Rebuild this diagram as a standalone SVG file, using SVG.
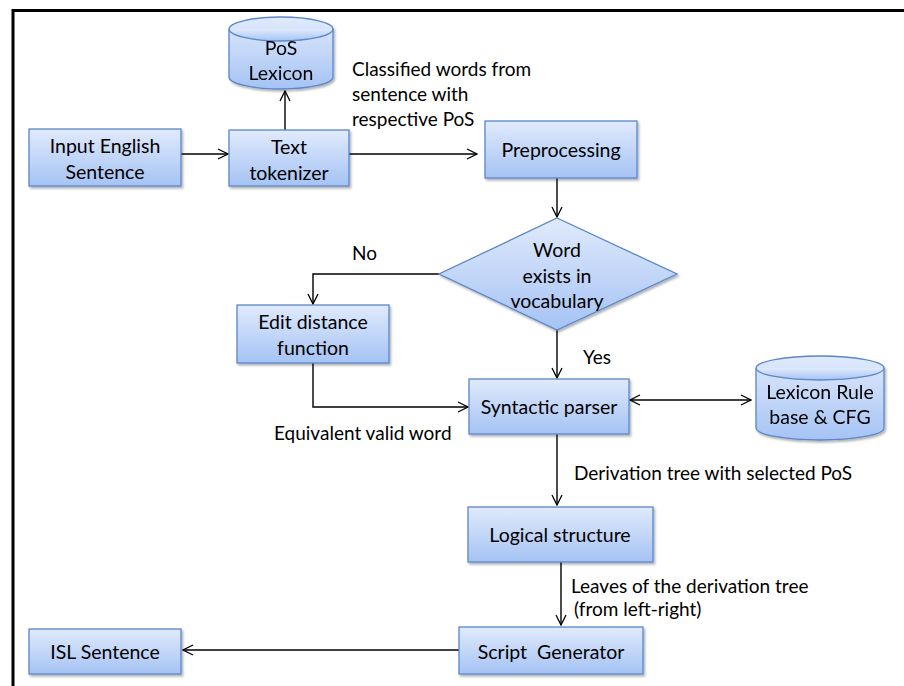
<svg xmlns="http://www.w3.org/2000/svg" width="904" height="686" viewBox="0 0 904 686">
<defs>
<linearGradient id="g" x1="0" y1="0" x2="0" y2="1">
<stop offset="0" stop-color="#e0eafc"/>
<stop offset="1" stop-color="#a5c3f4"/>
</linearGradient>
<filter id="sh" x="-10%" y="-10%" width="130%" height="140%">
<feDropShadow dx="1.5" dy="2" stdDeviation="1.2" flood-color="#000" flood-opacity="0.3"/>
</filter>
<marker id="ah" viewBox="0 0 12 12" refX="11" refY="6" markerWidth="12" markerHeight="12" markerUnits="userSpaceOnUse" orient="auto-start-reverse">
<path d="M1,1 L11,6 L1,11" fill="none" stroke="#000" stroke-width="1.3"/>
</marker>
</defs>
<style>
.box{fill:url(#g);stroke:#5a87c9;stroke-width:1.3;filter:url(#sh)}
.cyl{fill:url(#g);stroke:#5a87c9;stroke-width:1.3}
.t{font-family:Lato,"Liberation Sans",sans-serif;font-size:19.5px;fill:#000;text-anchor:middle}
.l{font-family:Lato,"Liberation Sans",sans-serif;font-size:19px;fill:#000}
.c{fill:none;stroke:#000;stroke-width:1.4}
.frame{fill:none;stroke:#000;stroke-width:3}
</style>
<rect width="904" height="686" fill="#fff"/>
<path class="frame" d="M13,686 V10.5 H904"/>

<g id="connectors">
<path class="c" d="M181,154 H228" marker-end="url(#ah)"/>
<path class="c" d="M285,130 V91" marker-end="url(#ah)"/>
<path class="c" d="M349,154 H477" marker-end="url(#ah)"/>
<path class="c" d="M557,178 V217" marker-end="url(#ah)"/>
<path class="c" d="M439,274 H313 V304" marker-end="url(#ah)"/>
<path class="c" d="M557,330 V378" marker-end="url(#ah)"/>
<path class="c" d="M313,363 V407 H468" marker-end="url(#ah)"/>
<path class="c" d="M630,400 H751" marker-start="url(#ah)" marker-end="url(#ah)"/>
<path class="c" d="M557,434 V505" marker-end="url(#ah)"/>
<path class="c" d="M561,562 V625" marker-end="url(#ah)"/>
<path class="c" d="M459,650 H183" marker-end="url(#ah)"/>
<text class="l" x="352" y="76">Classified words from</text>
<text class="l" x="352" y="101">sentence with</text>
<text class="l" x="352" y="126">respective PoS</text>
<text class="l" x="352" y="260">No</text>
<text class="l" x="583" y="364">Yes</text>
<text class="l" x="274" y="440">Equivalent valid word</text>
<text class="l" x="574" y="480">Derivation tree with selected PoS</text>
<text class="l" x="571" y="593">Leaves of the derivation tree</text>
<text class="l" x="574" y="616">(from left-right)</text>
</g>

<g id="input">
<rect class="box" x="29" y="129" width="152" height="57"/>
<text class="t" x="105" y="153">Input English</text>
<text class="t" x="105" y="179">Sentence</text>
</g>

<g id="tokenizer">
<rect class="box" x="229" y="130" width="120" height="56"/>
<text class="t" x="289" y="154">Text</text>
<text class="t" x="289" y="180">tokenizer</text>
</g>

<g id="poslexicon" filter="url(#sh)">
<path class="cyl" d="M229,29 V77 A52,12 0 0 0 333,77 V29 A52,12 0 0 0 229,29 Z"/>
<path class="cyl" d="M229,29 A52,12 0 0 0 333,29" fill="none"/>
<text class="t" x="281" y="55">PoS</text>
<text class="t" x="281" y="80">Lexicon</text>
</g>

<g id="preprocessing">
<rect class="box" x="485" y="121" width="152" height="57"/>
<text class="t" x="561" y="157">Preprocessing</text>
</g>

<g id="decision">
<polygon class="box" points="557,218 677,274 557,330 439,274"/>
<text class="t" x="557" y="257">Word</text>
<text class="t" x="557" y="283">exists in</text>
<text class="t" x="557" y="308">vocabulary</text>
</g>

<g id="editdistance">
<rect class="box" x="237" y="305" width="152" height="58"/>
<text class="t" x="313" y="329">Edit distance</text>
<text class="t" x="313" y="355">function</text>
</g>

<g id="parser">
<rect class="box" x="469" y="379" width="160" height="55"/>
<text class="t" x="549" y="414">Syntactic parser</text>
</g>

<g id="rulebase" filter="url(#sh)">
<path class="cyl" d="M756,368 V428 A64,12 0 0 0 884,428 V368 A64,12 0 0 0 756,368 Z"/>
<path class="cyl" d="M756,368 A64,12 0 0 0 884,368" fill="none"/>
<text class="t" x="820" y="399">Lexicon Rule</text>
<text class="t" x="820" y="424">base &amp; CFG</text>
</g>

<g id="logical">
<rect class="box" x="468" y="507" width="185" height="55"/>
<text class="t" x="560" y="542">Logical structure</text>
</g>

<g id="script">
<rect class="box" x="459" y="627" width="184" height="47"/>
<text class="t" x="551" y="659" xml:space="preserve">Script  Generator</text>
</g>

<g id="isl">
<rect class="box" x="29" y="629" width="152" height="45"/>
<text class="t" x="105" y="659">ISL Sentence</text>
</g>
</svg>
